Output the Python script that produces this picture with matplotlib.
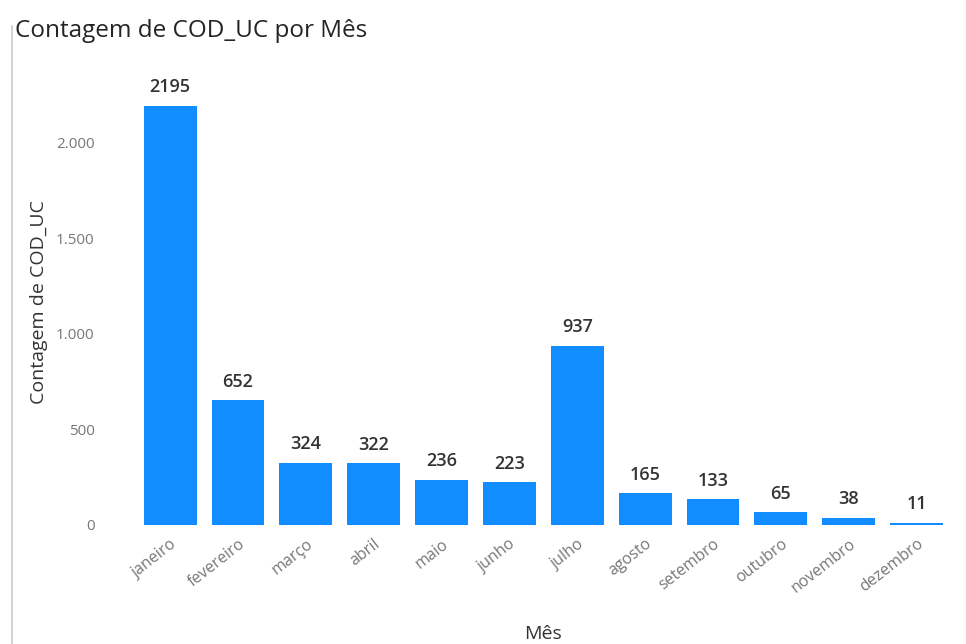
import numpy as np
import matplotlib
matplotlib.use("Agg")
import matplotlib.pyplot as plt

plt.rcParams['font.family'] = ['Open Sans', 'DejaVu Sans']

meses = ["janeiro", "fevereiro", "março", "abril", "maio", "junho",
         "julho", "agosto", "setembro", "outubro", "novembro", "dezembro"]
contagem = [2195, 652, 324, 322, 236, 223, 937, 165, 133, 65, 38, 11]
yticks = [0, 500, 1000, 1500, 2000]
ytick_labels = ["0", "500", "1.000", "1.500", "2.000"]

fig = plt.figure(figsize=(9.66, 6.44), dpi=100)
ax = fig.add_axes([0.141, 0.185, 0.843, 0.691])

x = np.arange(len(meses))
ax.bar(x, contagem, width=0.78, color="#118DFF")

for i, v in enumerate(contagem):
    ax.annotate(str(v), xy=(x[i], v), xytext=(0, 7), textcoords="offset points",
                ha="center", va="bottom", fontsize=13, color="#333333",
                fontweight="semibold")

ax.set_xlim(-0.5, len(meses) - 0.5)
ax.set_ylim(0, 2330)
ax.set_yticks(yticks)
ax.set_yticklabels(ytick_labels)
ax.set_xticks(x)
ax.set_xticklabels(meses, rotation=38, ha="right", rotation_mode="anchor")

ax.tick_params(axis="y", length=0, pad=30, labelsize=11, labelcolor="#777777")
ax.tick_params(axis="x", length=0, pad=8, labelsize=11.5, labelcolor="#777777")
for s in ax.spines.values():
    s.set_visible(False)

ax.set_ylabel("Contagem de COD_UC", fontsize=14, color="#333333", labelpad=6)
ax.set_xlabel("Mês", fontsize=14, color="#333333")
ax.xaxis.set_label_coords(0.5, -0.225)

fig.text(0.016, 0.952, "Contagem de COD_UC por Mês", fontsize=17.5, color="#252423",
         ha="left", va="center")

# moldura do visual
fig.add_artist(plt.Line2D([0.012, 0.012], [0.0, 0.96], color="#cccccc", lw=1.2))

fig.savefig("out.png", dpi=100, facecolor="white")
